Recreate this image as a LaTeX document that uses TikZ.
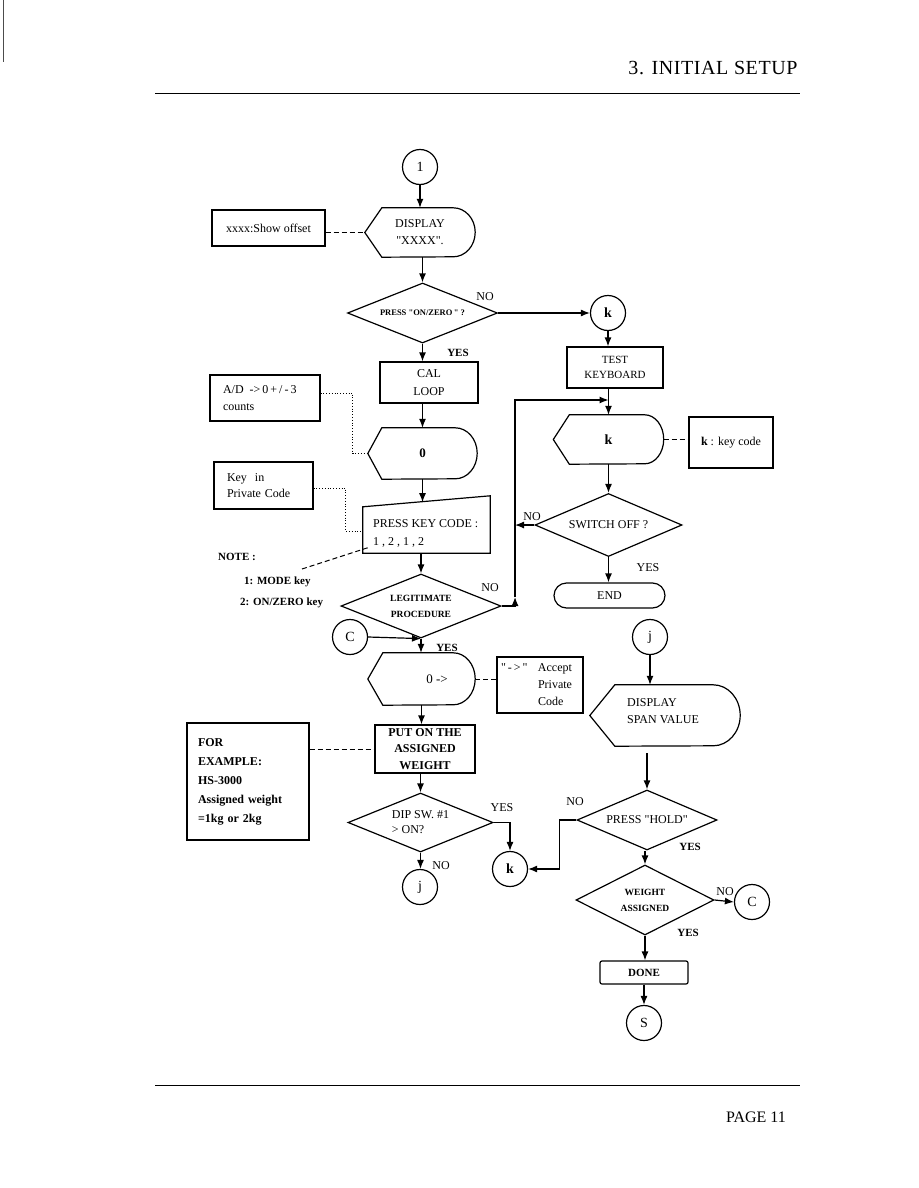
\documentclass[tikz,border=0pt]{standalone}
\usepackage{fontspec}
\setmainfont{Liberation Serif}[Ligatures=TeXOff]
\usetikzlibrary{arrows.meta,shapes.geometric,calc}
\newcommand{\dispoutline}[4]{\draw[shp] (#1.west) -- ($(#1.north west)+(#2,0)$) -- ($(#1.north east)+(-#3,0)$) arc[start angle=-90,end angle=90,x radius=#3,y radius=#4] -- ($(#1.south west)+(#2,0)$) -- cycle;}
\begin{document}
\begin{tikzpicture}[x=1pt,y=-1pt,
  shp/.style={line width=1.2pt},
  box/.style={draw,line width=1.2pt,inner sep=0pt,align=center},
  frame/.style={inner sep=0pt,align=center},
  conn/.style={circle,draw,line width=1.2pt,minimum size=35pt,inner sep=0pt,font=\fontsize{14}{16}\selectfont},
  dia/.style={diamond,draw,line width=1.2pt,inner sep=0pt,shape aspect=2.5,align=center},
  arr/.style={line width=1.2pt,-{Latex[length=9pt,width=7pt]}},
  ln/.style={line width=1.2pt},
  dsh/.style={line width=1pt,dash pattern=on 5pt off 3pt},
  dot/.style={line width=0.8pt,dotted},
  lab/.style={inner sep=0pt,font=\fontsize{12}{14}\selectfont},
  t12/.style={font=\fontsize{12}{17}\selectfont},
]
\fill[white] (0,0) rectangle (918,1188);
\useasboundingbox (0,0) rectangle (918,1188);
\draw[line width=0.8pt,black!70] (3,0) -- (3,62);
% header / footer
\node[inner sep=0pt,font=\fontsize{20}{22}\selectfont\addfontfeature{LetterSpace=3}] (head) at (713,68) {3. INITIAL SETUP};
\draw[line width=1pt] (155,94) -- (800,94);
\draw[line width=1pt] (155,1085) -- (800,1085);
\node[inner sep=0pt,font=\fontsize{16}{18}\selectfont] (page) at (756,1117) {PAGE 11};

% ---- left / centre column
\node[conn] (c1) at (420,167) {1};
\node[frame,minimum width=110pt,minimum height=49pt,t12] (d1) at (420,232.5) {DISPLAY\\"XXXX".};
\dispoutline{d1}{17}{22}{24.5}
\node[box,minimum width=113pt,minimum height=36pt,t12] (boff) at (268.5,228) {xxxx:Show offset};
\node[dia,minimum width=150pt,minimum height=60pt,font=\bfseries\fontsize{8.5}{10}\selectfont] (dz) at (422.5,313) {PRESS "ON/ZERO\," ?};
\node[box,minimum width=98pt,minimum height=41pt,font=\fontsize{12}{18}\selectfont] (bcal) at (429,382.5) {CAL\\LOOP};
\node[box,minimum width=110pt,minimum height=46pt,text width=84pt,align=left,font=\fontsize{12}{17}\selectfont] (bad) at (265,398) {A/D \,->\,0\,+\,/\,-\,3\\counts};
\node[frame,minimum width=109pt,minimum height=51pt,font=\bfseries\fontsize{13}{15}\selectfont] (d0) at (422.5,453.5) {0};
\dispoutline{d0}{14}{22}{25.5}
\node[box,minimum width=99pt,minimum height=47pt,text width=73pt,align=left,font=\fontsize{12}{16}\selectfont] (bkey) at (263.5,485.5) {Key\ \ in\\Private Code};
\node[frame,minimum width=127pt,minimum height=57pt] (bpress) at (426.5,524.5) {};
\draw[shp] ($(bpress.north west)+(0,11)$) -- (bpress.north east) -- (bpress.south east) -- (bpress.south west) -- cycle;
\node[lab,anchor=west,align=left,font=\fontsize{12}{18}\selectfont] (bpresst) at (373,533) {PRESS KEY CODE :\\1 , 2 , 1 , 2};
\node[lab,anchor=west,font=\bfseries\fontsize{11}{13}\selectfont] (note) at (218,557) {NOTE :};
\node[lab,anchor=west,font=\bfseries\fontsize{11}{13}\selectfont] (n1) at (244,582) {1: MODE key};
\node[lab,anchor=west,font=\bfseries\fontsize{11}{13}\selectfont] (n2) at (240,603) {2: ON/ZERO key};
\coordinate (nl1) at (302,569);
\coordinate (nl2) at (370,547);
\node[dia,minimum width=160pt,minimum height=64pt,font=\bfseries\fontsize{9.5}{16}\selectfont] (dleg) at (421,606) {LEGITIMATE\\PROCEDURE};
\node[conn] (cC) at (350,637) {C};
\node[frame,minimum width=107pt,minimum height=52pt] (d0a) at (421.5,679) {};
\dispoutline{d0a}{15}{22}{26}
\node[lab,font=\fontsize{13}{15}\selectfont] (d0at) at (437,679) {0 ->};
\node[box,minimum width=86pt,minimum height=56pt,text width=78pt,align=left,font=\fontsize{12}{17}\selectfont] (bacc) at (540,685) {\makebox[37pt][l]{"\,-\,>\,"}Accept\\\hspace*{37pt}Private\\\hspace*{37pt}Code};
\node[box,minimum width=100pt,minimum height=48pt,font=\bfseries\fontsize{12}{16.5}\selectfont] (bput) at (425,749) {PUT ON THE\\ASSIGNED\\WEIGHT};
\node[box,minimum width=122pt,minimum height=117pt,text width=100pt,align=left,font=\bfseries\fontsize{12}{19}\selectfont] (bex) at (248,781.5) {FOR\\EXAMPLE:\\HS-3000\\Assigned weight\\=1kg or 2kg};
\node[dia,minimum width=145pt,minimum height=59pt,align=left,font=\fontsize{12}{15}\selectfont] (ddip) at (420.5,822.5) {DIP SW. \#1\\> ON?};
\node[conn] (cj) at (420,887) {j};
\node[conn,font=\bfseries\fontsize{14}{16}\selectfont] (ck2) at (510,869) {k};

% ---- right column
\node[conn,font=\bfseries\fontsize{14}{16}\selectfont] (ck) at (608,313) {k};
\node[box,minimum width=96pt,minimum height=41pt,font=\fontsize{11}{15}\selectfont] (btest) at (615,367.5) {TEST\\KEYBOARD};
\node[frame,minimum width=110pt,minimum height=49pt,font=\bfseries\fontsize{14}{16}\selectfont] (dk) at (608.5,439.5) {k};
\dispoutline{dk}{16}{19}{24.5}
\node[box,minimum width=84pt,minimum height=51pt,font=\fontsize{12}{14}\selectfont] (bkc) at (731,442.5) {\textbf{k} : key code};
\node[dia,minimum width=147pt,minimum height=63pt,font=\fontsize{12}{14}\selectfont] (dsw) at (608.5,525) {SWITCH OFF ?};
\node[box,minimum width=111pt,minimum height=25pt,rounded corners=12.5pt,font=\fontsize{12}{14}\selectfont] (bend) at (609.5,595.5) {END};
\coordinate (lpt) at (515,400);
\node[conn] (cj2) at (650,637) {j};
\node[frame,minimum width=150pt,minimum height=61pt] (dspan) at (665,715.5) {};
\dispoutline{dspan}{25}{27}{30.5}
\node[lab,anchor=west,align=left,font=\fontsize{12}{17}\selectfont] (dspant) at (627,711) {DISPLAY\\SPAN VALUE};
\node[dia,minimum width=140pt,minimum height=60pt,font=\fontsize{12}{14}\selectfont] (dhold) at (647,820) {PRESS "HOLD"};
\node[dia,minimum width=138pt,minimum height=70pt,font=\bfseries\fontsize{9.5}{16}\selectfont] (dwa) at (645,900) {WEIGHT\\ASSIGNED};
\node[conn] (cC2) at (752,902) {C};
\node[box,minimum width=88pt,minimum height=23pt,rounded corners=2pt,font=\bfseries\fontsize{11}{13}\selectfont] (bdone) at (644,972.5) {DONE};
\node[conn] (cS) at (644,1023) {S};

% ---- labels
\node[lab] (l1) at (485,297) {NO};
\node[lab,font=\bfseries\fontsize{11}{13}\selectfont] (l2) at (458,353) {YES};
\node[lab] (l3) at (532,517) {NO};
\node[lab] (l4) at (648,568) {YES};
\node[lab] (l5) at (490,588) {NO};
\node[lab,font=\bfseries\fontsize{11}{13}\selectfont] (l6) at (447,648) {YES};
\node[lab] (l7) at (502,808) {YES};
\node[lab] (l8) at (441,866) {NO};
\node[lab] (l9) at (575,802) {NO};
\node[lab,font=\bfseries\fontsize{11}{13}\selectfont] (l10) at (690,847) {YES};
\node[lab] (l11) at (725,892) {NO};
\node[lab,font=\bfseries\fontsize{11}{13}\selectfont] (l12) at (688,933) {YES};

% ---- connectors
\draw[arr] (c1.south) -- (c1.south |- d1.north);
\draw[arr] (dz.north |- d1.south) -- (dz.north);
\draw[dsh] (boff.east |- d1.west) -- (d1.west);
\draw[arr] (dz.east) -- (ck.west);
\draw[arr] (dz.south) -- (dz.south |- bcal.north);
\draw[arr] (d0.north |- bcal.south) -- (d0.north);
\draw[dot] ($(bad.east)+(0,-5)$) -- ++(32,0) |- (d0.west);
\draw[dot] ($(bkey.east)+(0,2.5)$) -- ++(32,0) |- ($(bpress.west)+(0,6.5)$);
\draw[arr] (d0.south) -- ++(0,23);
\draw[dsh] (nl1) -- (nl2);
\draw[arr] (dleg.north |- bpress.south) -- (dleg.north);
\draw[arr] (cC.east) -- (dleg.south);
\draw[arr] (dleg.south) -- (dleg.south |- d0a.north);
\draw[dsh] (d0a.east) -- (d0a.east -| bacc.west);
\draw[arr] (d0a.south) -- (d0a.south |- bput.north);
\draw[dsh] (bex.east |- bput.west) -- (bput.west);
\draw[arr] (ddip.north |- bput.south) -- (ddip.north);
\draw[arr] (ddip.east) -| (ck2.north);
\draw[arr] (ddip.south) -- (ddip.south |- cj.north);
\draw[arr] (ck.south) -- (ck.south |- btest.north);
\draw[arr] (dk.north |- btest.south) -- (dk.north);
\draw[dsh] (dk.east) -- (dk.east -| bkc.west);
\draw[arr] (dk.south) -- (dsw.north);
\draw[arr] (dsw.south) -- (dsw.south |- bend.north);
\draw[arr] (dsw.west) -- (dsw.west -| lpt);
\draw[arr] (dleg.east) -| ($(lpt)+(0,197)$);
\draw[arr] ($(lpt)+(0,197)$) -- (lpt) -- (lpt -| dk.north);
\draw[arr] (cj2.south) -- (cj2.south |- dspan.north);
\draw[arr] ($(dhold.north |- dspan.south)+(0,7)$) -- (dhold.north);
\draw[arr] (dhold.west) -- ++(-17,0) |- (ck2.east);
\draw[arr] (dwa.north |- dhold.south) -- (dwa.north);
\draw[arr] (dwa.east) -- (cC2.west);
\draw[arr] (dwa.south) -- (dwa.south |- bdone.north);
\draw[arr] (bdone.south) -- (cS.north);
\end{tikzpicture}
\end{document}
